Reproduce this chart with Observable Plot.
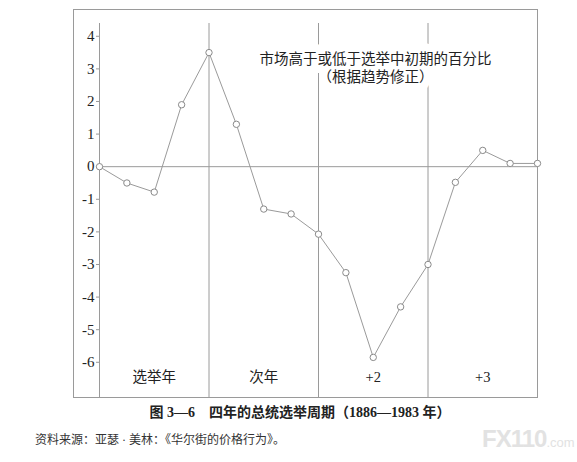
<!DOCTYPE html>
<html>
<head>
<meta charset="utf-8">
<script src="https://cdn.jsdelivr.net/npm/d3@7"></script>
<script src="https://cdn.jsdelivr.net/npm/@observablehq/plot@0.6"></script>
<style>
  html, body { margin: 0; padding: 0; background: #fff; }
  body { width: 577px; height: 462px; position: relative; overflow: hidden;
         font-family: 'Liberation Serif', 'Noto Sans CJK SC', serif; color: #222; }
  #chart { position: absolute; left: 0; top: 0; }
  #chart svg, #chart svg text { font-family: 'Liberation Serif', 'Noto Sans CJK SC', serif; }
  #caption { position: absolute; left: 0; width: 600px; top: 401px; text-align: center;
             font-size: 14px; font-weight: bold; }
  #source { position: absolute; left: 35px; top: 430px; font-size: 12px; color: #333; }
  #wm { position: absolute; left: 482px; top: 425px; color: #e2e2e2; font-family: 'Liberation Sans', sans-serif;
        font-weight: bold; font-size: 24px; letter-spacing: -1px; }
  #wm small { font-size: 13px; font-weight: normal; letter-spacing: 0; }
</style>
</head>
<body>
<div id="chart"></div>
<div id="caption">图 3—6　四年的总统选举周期（1886—1983 年）</div>
<div id="source">资料来源：亚瑟 · 美林：《华尔街的价格行为》。</div>
<div id="wm">FX110<small>.com</small></div>
<script>
// Quarter index within the four-year cycle (0 = start of election year)
const quarters = [0, 1, 2, 3, 4, 5, 6, 7, 8, 9, 10, 11, 12, 13, 14, 15, 16];
// Market % above/below early election-year level (trend adjusted)
const values = [0, -0.5, -0.78, 1.9, 3.5, 1.3, -1.3, -1.45, -2.07, -3.25, -5.85, -4.3, -3.0, -0.48, 0.5, 0.1, 0.1];
// Year boundaries and labels
const yearStarts = [0, 4, 8, 12];
const yearCenters = [2, 6, 10, 14];
const yearLabels = ["选举年", "次年", "+2", "+3"];
const yTicks = [4, 3, 2, 1, 0, -1, -2, -3, -4, -5, -6];
const titleText = "市场高于或低于选举中初期的百分比\n（根据趋势修正）";

const data = quarters.map((q, i) => ({q, v: values[i]}));
const years = yearCenters.map((c, i) => ({c, label: yearLabels[i]}));

const font = "'Liberation Serif', 'Noto Sans CJK SC', serif";

const chart = Plot.plot({
  width: 577,
  height: 400,
  marginLeft: 99,
  marginRight: 40,
  marginTop: 26,
  marginBottom: 3,
  x: {domain: [0, 16], axis: null},
  y: {domain: [-7.08, 4.3], axis: null},
  style: "background: white; color: #222; font-family: 'Liberation Serif', 'Noto Sans CJK SC', serif;",
  marks: [
    Plot.frame({stroke: "#9a9a9a", insetLeft: -26, insetTop: -17}),
    Plot.ruleY([0], {stroke: "#9a9a9a"}),
    Plot.ruleX(yearStarts, {stroke: "#9a9a9a", insetTop: -3}),
    Plot.text([titleText], {frameAnchor: "top", dx: 57, dy: 41, lineAnchor: "middle", lineHeight: 1.2,
      fontSize: 14.5, fill: "white", stroke: "white", strokeWidth: 16, fontFamily: font}),
    Plot.text([titleText], {frameAnchor: "top", dx: 57, dy: 41, lineAnchor: "middle", lineHeight: 1.2,
      fontSize: 14.5, fill: "#222", fontFamily: font}),
    Plot.axisY({ticks: yTicks, tickSize: 3, tickPadding: 2, tickFormat: d => String(d),
      fontSize: 15, stroke: "#9a9a9a", fill: "#222", label: null, fontFamily: font}),
    Plot.text(years, {x: "c", frameAnchor: "bottom", dy: -20, text: "label", fontSize: 14.5, fill: "#222",
      lineAnchor: "middle", fontFamily: font}),
    Plot.line(data, {x: "q", y: "v", stroke: "#9a9a9a", strokeWidth: 1}),
    Plot.dot(data, {x: "q", y: "v", r: 3.2, fill: "white", stroke: "#8a8a8a", strokeWidth: 1})
  ]
});
document.getElementById("chart").appendChild(chart);
</script>
</body>
</html>
